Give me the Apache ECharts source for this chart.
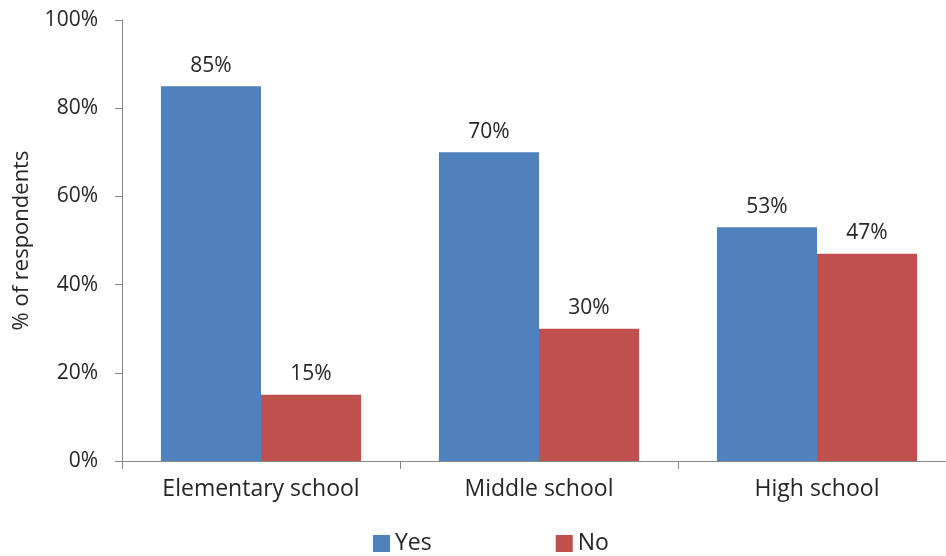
<!DOCTYPE html>
<html>
<head>
<meta charset="utf-8">
<script src="https://cdn.jsdelivr.net/npm/echarts@6/dist/echarts.min.js"></script>
<style>
  html, body { margin: 0; padding: 0; background: #fff; overflow: hidden; }
  /* plot runs slightly past the right edge of the window, so the canvas is a bit wider */
  #chart { width: 956px; height: 556px; }
</style>
</head>
<body>
<div id="chart"></div>
<script>
// School levels and the share of respondents answering Yes / No
const categories = ['Elementary school', 'Middle school', 'High school'];
const yesValues = [85, 70, 53];
const noValues = [15, 30, 47];
const yTicks = [0, 20, 40, 60, 80, 100];

const FONT = 'Open Sans';
const TEXT = '#262626';
const AXIS = '#868686';

const chart = echarts.init(document.getElementById('chart'));

function barSeries(name, values, color) {
  return {
    name: name,
    type: 'bar',
    data: values,
    barWidth: '36%',
    barGap: '0%',
    itemStyle: { color: color },
    label: {
      show: true,
      position: 'top',
      distance: 10,
      formatter: '{c}%',
      fontFamily: FONT,
      fontSize: 21,
      color: TEXT
    }
  };
}

chart.setOption({
  animation: false,
  textStyle: { fontFamily: FONT },
  grid: { left: 122, top: 20, right: 0, bottom: 95, containLabel: false },
  legend: {
    data: ['Yes', 'No'],
    top: 527,
    left: 368,
    itemWidth: 17,
    itemHeight: 17,
    itemGap: 124,
    icon: 'rect',
    textStyle: { fontFamily: FONT, fontSize: 23, color: TEXT }
  },
  xAxis: {
    type: 'category',
    data: categories,
    axisLine: { lineStyle: { color: AXIS, width: 1 } },
    axisTick: { show: true, length: 8, lineStyle: { color: AXIS } },
    axisLabel: { fontFamily: FONT, fontSize: 23, color: TEXT, margin: 17 }
  },
  yAxis: {
    type: 'value',
    min: yTicks[0],
    max: yTicks[yTicks.length - 1],
    interval: 20,
    name: '% of respondents',
    nameLocation: 'middle',
    nameGap: 89,
    nameRotate: 90,
    nameTextStyle: { fontFamily: FONT, fontSize: 22, color: TEXT },
    axisLine: { show: true, lineStyle: { color: AXIS, width: 1 } },
    axisTick: { show: true, length: 7, lineStyle: { color: AXIS } },
    splitLine: { show: false },
    axisLabel: { formatter: '{value}%', fontFamily: FONT, fontSize: 21, color: TEXT, margin: 24 }
  },
  series: [
    barSeries('Yes', yesValues, '#4F81BD'),
    barSeries('No', noValues, '#C0504D')
  ]
});
</script>
</body>
</html>
